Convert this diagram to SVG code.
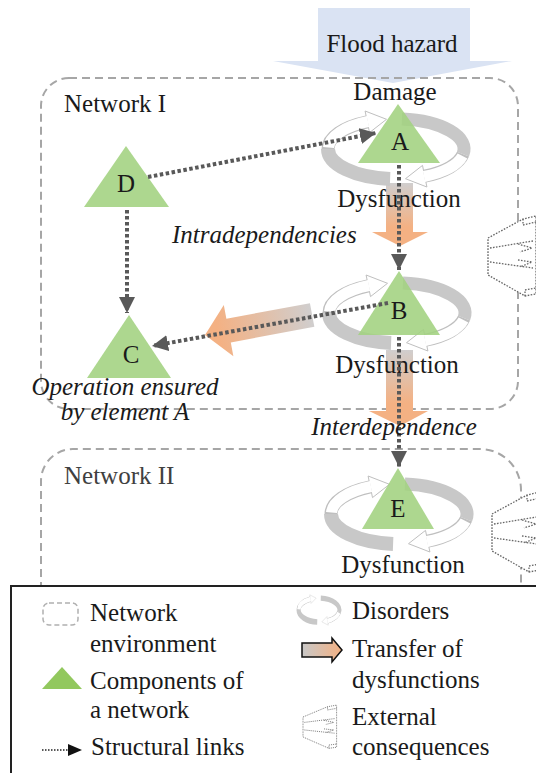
<svg xmlns="http://www.w3.org/2000/svg" xmlns:xlink="http://www.w3.org/1999/xlink" width="536" height="773" viewBox="0 0 536 773" font-family="'Liberation Serif', 'DejaVu Serif', serif">
<style>
text{font-family:'Liberation Serif','DejaVu Serif','Times New Roman',serif;font-size:25px;fill:#1a1a1a}
.it{font-style:italic}
.mid{text-anchor:middle}
.env{fill:none;stroke:#a6a6a6;stroke-width:2;stroke-dasharray:8 5}
.tri{fill:#a2d17f;opacity:0.88}
.link{fill:none;stroke:#595959;stroke-width:4;stroke-dasharray:3.5 2.5}
.ext{fill:#fff;stroke:#666;stroke-width:1.3;stroke-dasharray:1.6 1.4}
.extl{fill:none;stroke:#666;stroke-width:1.3;stroke-dasharray:1.6 1.4}
</style>
<defs>
<marker id="ah" markerUnits="userSpaceOnUse" markerWidth="16" markerHeight="16" refX="14" refY="7" orient="auto" viewBox="0 0 14 14">
<path d="M0,0 L14,7 L0,14 z" fill="#595959"/>
</marker>
<linearGradient id="gv1" gradientUnits="userSpaceOnUse" x1="0" y1="183" x2="0" y2="246">
<stop offset="0" stop-color="#d0cece"/><stop offset="0.7" stop-color="#f4b183"/><stop offset="1" stop-color="#f4b183"/>
</linearGradient>
<linearGradient id="gv2" gradientUnits="userSpaceOnUse" x1="0" y1="350" x2="0" y2="426">
<stop offset="0" stop-color="#d0cece"/><stop offset="0.7" stop-color="#f4b183"/><stop offset="1" stop-color="#f4b183"/>
</linearGradient>
<linearGradient id="gh" gradientUnits="userSpaceOnUse" x1="0" y1="0" x2="109" y2="0">
<stop offset="0.12" stop-color="#f4b183"/><stop offset="1" stop-color="#d0cece"/>
</linearGradient>
<linearGradient id="gl" x1="0" y1="0" x2="1" y2="0">
<stop offset="0" stop-color="#c8c8c8"/><stop offset="1" stop-color="#f4b183"/>
</linearGradient>
<g id="ring">
<path d="M-5.9,29.9 A68,30 0 0 1 -68,0" fill="none" stroke="#c8c8c8" stroke-width="14"/>
<path d="M-68,0 A68,30 0 0 1 -28.7,-27.2" fill="none" stroke="#bfbfbf" stroke-width="13"/>
<polygon points="-30.9,-38 -9.5,-29.7 -26.5,-16.4" fill="#fff" stroke="#bfbfbf" stroke-width="1"/>
<path d="M-67.5,-1.5 A68,30 0 0 1 -28,-27.5" fill="none" stroke="#fff" stroke-width="11"/>
<path d="M5.9,-29.9 A68,30 0 0 1 67,5.2" fill="none" stroke="#c8c8c8" stroke-width="13"/>
<path d="M67,5.2 A68,30 0 0 1 28.7,27.2" fill="none" stroke="#bfbfbf" stroke-width="13"/>
<polygon points="30.9,38 9.5,29.7 26.5,16.4" fill="#fff" stroke="#bfbfbf" stroke-width="1"/>
<path d="M66.5,7 A68,30 0 0 1 28,27.5" fill="none" stroke="#fff" stroke-width="11"/>
</g>
<g id="extshape">
<polygon class="ext" points="0,0 35,-19 48,-22 48,56 37,58 0,37"/>
<polyline class="extl" points="2,10 45,3"/>
<polyline class="extl" points="2,24 45,30"/>
<polyline class="extl" points="35,-19 35,-13 48,-16"/>
<polyline class="extl" points="37,58 37,52 48,50"/>
<polyline class="extl" points="30,6 44,10 32,14"/>
<polyline class="extl" points="30,22 44,24 32,29"/>
</g>
</defs>

<g id="flood-hazard">
<polygon points="318,8 470,8 470,61 512,61 393,83 273,61 318,61" fill="#dae3f3"/>
<text class="mid" x="392" y="52">Flood hazard</text>
</g>

<g id="network-I">
<rect class="env" x="41" y="78" width="477" height="331" rx="28" ry="28"/>
<text x="64" y="112">Network I</text>
</g>
<g id="network-II">
<path class="env" d="M41,590 L41,481 A32,32 0 0 1 73,449 L480,449 A41,41 0 0 1 521,490 L521,590"/>
<text x="64" y="484" style="fill:#404040">Network II</text>
</g>

<g id="external-consequences">
<use xlink:href="#extshape" transform="translate(488,238)"/>
<use xlink:href="#extshape" transform="translate(492,514)"/>
</g>

<g id="transfers">
<polygon points="386,183 413,183 413,232 428,232 400,246 372,232 386,232" fill="url(#gv1)"/>
<polygon points="386,350 413,350 413,411 428,411 400,426 369,411 386,411" fill="url(#gv2)"/>
<polygon points="0,0 24,-26 24,-12 109,-12 109,12 24,12 24,26" fill="url(#gh)" transform="translate(205,335) rotate(-10.6)"/>
</g>

<g id="disorders">
<use xlink:href="#ring" transform="translate(396,149)"/>
<use xlink:href="#ring" transform="translate(397,313)"/>
<use xlink:href="#ring" transform="translate(399,514)"/>
</g>

<g id="node-A">
<polygon class="tri" points="398,104 440,163 358,163"/>
<text class="mid" x="400" y="150">A</text>
<text class="mid" x="395" y="100">Damage</text>
<text class="mid" x="399" y="207">Dysfunction</text>
</g>
<g id="node-D">
<polygon class="tri" points="126,146 169,207 84,207"/>
<text class="mid" x="126" y="192">D</text>
</g>
<g id="node-B">
<polygon class="tri" points="399,271 440,335 358,335"/>
<text class="mid" x="399" y="319">B</text>
<text class="mid" x="397" y="373">Dysfunction</text>
</g>
<g id="node-C">
<polygon class="tri" points="129,315 171,378 87,378"/>
<text class="mid" x="131" y="363">C</text>
<text class="mid it" x="125" y="395">Operation ensured</text>
<text class="mid it" x="125" y="420">by element A</text>
</g>
<g id="node-E">
<polygon class="tri" points="398,468 434,529 362,529"/>
<text class="mid" x="398" y="517">E</text>
<text class="mid" x="403" y="573">Dysfunction</text>
</g>

<g id="connectors">
<path class="link" d="M148,177 L376,133" marker-end="url(#ah)"/>
<path class="link" d="M127,210 L127,313" marker-end="url(#ah)"/>
<path class="link" d="M399,165 L399,270" marker-end="url(#ah)"/>
<path class="link" d="M388,303 L152,346" marker-end="url(#ah)"/>
<path class="link" d="M399,337 L399,467" marker-end="url(#ah)"/>
</g>

<g id="labels">
<text class="it" x="172" y="243">Intradependencies</text>
<text class="mid it" x="394" y="435">Interdependence</text>
</g>

<g id="legend">
<rect x="11" y="586" width="540" height="200" fill="#fff" stroke="#222" stroke-width="2"/>
<rect x="43" y="603" width="35" height="22" rx="6" fill="none" stroke="#b0b0b0" stroke-width="1.5" stroke-dasharray="5 3"/>
<text x="90" y="621">Network</text>
<text x="90" y="652">environment</text>
<polygon points="62,667 82,689 42,689" fill="#92c85e"/>
<text x="90" y="689">Components of</text>
<text x="90" y="718">a network</text>
<line x1="42" y1="750" x2="70" y2="750" stroke="#222" stroke-width="1.4" stroke-dasharray="1.5 1.5"/>
<polygon points="68,744 82,750 68,756" fill="#111"/>
<text x="91" y="755">Structural links</text>
<use xlink:href="#ring" transform="translate(319,610) scale(0.3,0.4)"/>
<text x="352" y="619">Disorders</text>
<polygon points="302,643 332,643 332,638 342,650 332,662 332,657 302,657" fill="url(#gl)" stroke="#111" stroke-width="1.5"/>
<text x="352" y="657">Transfer of</text>
<text x="352" y="688">dysfunctions</text>
<use xlink:href="#extshape" transform="translate(303,717) scale(0.7,0.54)"/>
<text x="352" y="725">External</text>
<text x="352" y="755">consequences</text>
</g>
</svg>
